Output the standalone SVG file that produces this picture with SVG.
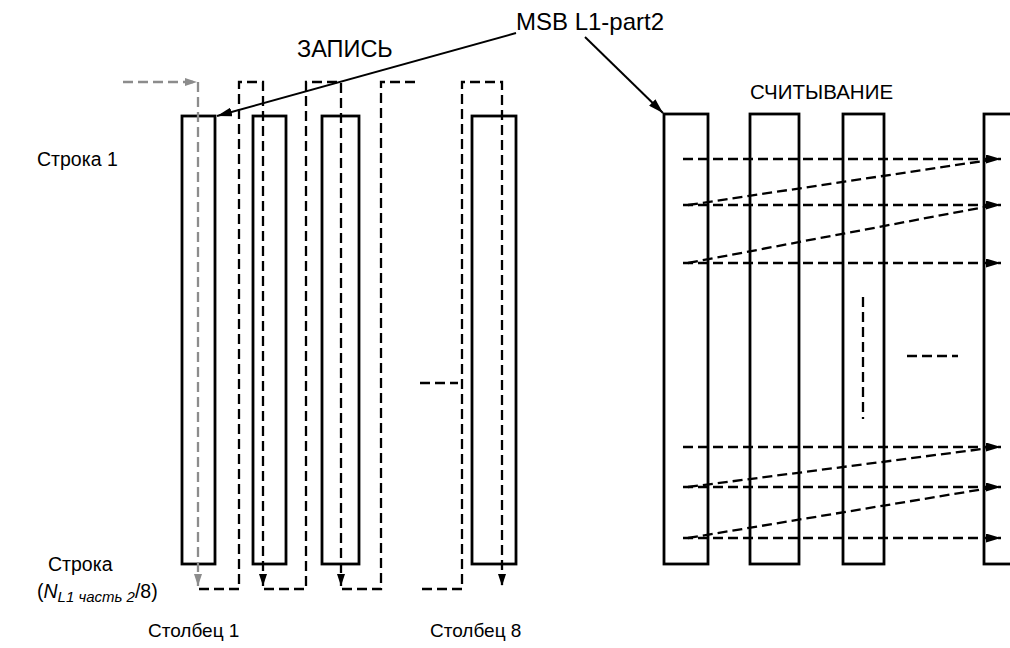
<svg xmlns="http://www.w3.org/2000/svg" width="1010" height="648" viewBox="0 0 1010 648">
<defs>
<style>
.col{fill:none;stroke:#000;stroke-width:2.8}
.d{fill:none;stroke:#000;stroke-width:2.3;stroke-dasharray:10 5}
.g{fill:none;stroke:#8c8c8c;stroke-width:2.3;stroke-dasharray:10 5}
.s{fill:none;stroke:#000;stroke-width:2}
text{font-family:"Liberation Sans",Arial,sans-serif;fill:#000}
</style>
<marker id="ab" viewBox="0 0 12 8" refX="12" refY="4" markerWidth="12" markerHeight="8" markerUnits="userSpaceOnUse" orient="auto"><path d="M0,0 L12,4 L0,8 Z" fill="#000"/></marker>
<marker id="ag" viewBox="0 0 12 8" refX="12" refY="4" markerWidth="12" markerHeight="8" markerUnits="userSpaceOnUse" orient="auto"><path d="M0,0 L12,4 L0,8 Z" fill="#8c8c8c"/></marker>
<marker id="am" viewBox="0 0 15 9" refX="15" refY="4.5" markerWidth="15" markerHeight="9" markerUnits="userSpaceOnUse" orient="auto"><path d="M0,0 L15,4.5 L0,9 Z" fill="#000"/></marker>
</defs>
<rect width="1010" height="648" fill="#fff"/>

<g id="write-col1"><rect class="col" x="182" y="116" width="33" height="448"/></g>
<g id="write-col2"><rect class="col" x="253" y="116" width="33" height="448"/></g>
<g id="write-col3"><rect class="col" x="322" y="116" width="37" height="448"/></g>
<g id="write-col8"><rect class="col" x="472" y="116" width="44" height="448"/></g>

<g id="read-col1"><rect class="col" x="664" y="114" width="44" height="450"/></g>
<g id="read-col2"><rect class="col" x="750" y="114" width="49" height="450"/></g>
<g id="read-col3"><rect class="col" x="843" y="114" width="41" height="450"/></g>
<g id="read-col4"><rect class="col" x="984" y="114" width="40" height="450"/></g>

<g id="connectors">
<path class="g" d="M123,82 H197" marker-end="url(#ag)"/>
<path class="g" d="M198,82 V586" marker-end="url(#ag)"/>
<path class="d" d="M199,589 H239 V82 H263 V586" marker-end="url(#ab)"/>
<path class="d" d="M264,589 H306 V82 H341 V586" marker-end="url(#ab)"/>
<path class="d" d="M342,589 H381 V82 H418"/>
<path class="d" d="M420,383 H458"/>
<path class="d" d="M422,589 H462 V82 H502 V586" marker-end="url(#ab)"/>

<path class="s" d="M516,33 L217,116" marker-end="url(#am)"/>
<path class="s" d="M585,37 L663,113" marker-end="url(#am)"/>

<path class="d" d="M683,159 H1001" marker-end="url(#am)"/>
<path class="d" d="M683,205 H1001" marker-end="url(#am)"/>
<path class="d" d="M683,263 H1001" marker-end="url(#am)"/>
<path class="d" d="M688,205 L990,160"/>
<path class="d" d="M688,263 L990,206"/>
<path class="d" d="M683,447 H1001" marker-end="url(#am)"/>
<path class="d" d="M683,487 H1001" marker-end="url(#am)"/>
<path class="d" d="M683,538 H1001" marker-end="url(#am)"/>
<path class="d" d="M688,487 L990,448"/>
<path class="d" d="M688,538 L990,488"/>
<path class="d" d="M863,297 V419"/>
<path class="d" d="M907,356 H958"/>
</g>

<g id="labels">
<text x="516" y="30" font-size="24">MSB L1-part2</text>
<text x="297" y="57" font-size="23.5">ЗАПИСЬ</text>
<text x="750" y="99" font-size="20.5">СЧИТЫВАНИЕ</text>
<text x="37" y="166" font-size="19.5">Строка 1</text>
<text x="48" y="571" font-size="19.5">Строка</text>
<text x="37" y="598" font-size="19.5">(<tspan font-style="italic">N</tspan><tspan font-style="italic" font-size="15" dy="4">L1  часть 2</tspan><tspan dy="-4">/8)</tspan></text>
<text x="148" y="637" font-size="19">Столбец 1</text>
<text x="430" y="637" font-size="19">Столбец 8</text>
</g>
</svg>
